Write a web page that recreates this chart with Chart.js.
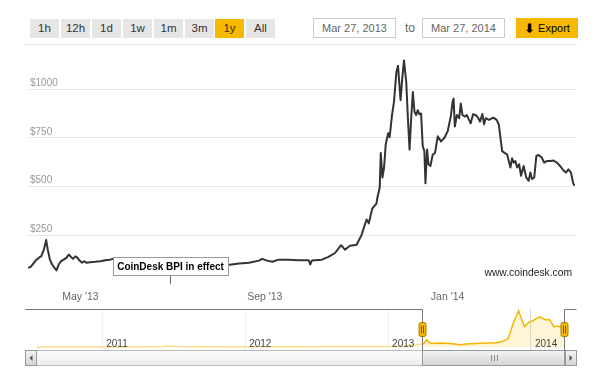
<!DOCTYPE html>
<html>
<head>
<meta charset="utf-8">
<script src="https://cdn.jsdelivr.net/npm/chart.js@4"></script>
<style>
  body { margin: 0; width: 600px; height: 371px; background: #fff; position: relative; overflow: hidden;
         font-family: "Liberation Sans", Arial, sans-serif; }
  .btn { position: absolute; top: 19px; width: 29px; height: 19px; line-height: 19px; background: #e6e6e6;
         color: #333; font-size: 11.5px; text-align: center; }
  .btn.on { background: #f7b900; }
  .date { position: absolute; top: 18px; width: 81px; height: 18px; line-height: 18px; border: 1px solid #ccc;
          color: #666; font-size: 11px; text-align: center; background: #fff; }
  #to { position: absolute; left: 405px; top: 19px; line-height: 19px; color: #666; font-size: 12px; }
  #export { position: absolute; left: 516px; top: 18px; width: 62px; height: 20px; line-height: 20px;
            background: #f7b900; color: #000; font-size: 11px; text-align: center; }
  #export b { font-family: "DejaVu Sans", sans-serif; font-size: 13px; vertical-align: -1px; }
  #sep { position: absolute; left: 25px; top: 44px; width: 552px; height: 1px; background: #e6e6e6; }
  #main { position: absolute; left: 0; top: 48px; }
  #nav { position: absolute; left: 0; top: 306px; }
</style>
</head>
<body>
<span class="btn" style="left:30px">1h</span>
<span class="btn" style="left:61px">12h</span>
<span class="btn" style="left:92px">1d</span>
<span class="btn" style="left:123px">1w</span>
<span class="btn" style="left:154px">1m</span>
<span class="btn" style="left:185px">3m</span>
<span class="btn on" style="left:215px">1y</span>
<span class="btn" style="left:246px">All</span>
<div class="date" style="left:313px">Mar 27, 2013</div>
<span id="to">to</span>
<div class="date" style="left:422px">Mar 27, 2014</div>
<div id="export"><b>&#x2B07;</b> Export</div>
<div id="sep"></div>
<canvas id="main" width="600" height="260"></canvas>
<canvas id="nav" width="600" height="65"></canvas>
<script>
// main chart: days after Mar 27, 2013 and BPI price in USD
const days = [0, 1.8, 5.1, 7.3, 8.8, 10.6, 12.1, 13.2, 14.6, 16.1, 17.7, 19, 20.5, 22.1, 23.8, 25.6, 27.2, 28.7, 30, 31.6,
  33.1, 34.4, 36, 37.6, 38.9, 41.5, 44.8, 48.2, 51.5, 54.8, 58.1, 61.4, 65, 72, 80, 88, 96, 100, 105, 112, 120, 128,
  132, 140.9, 147.5, 154.1, 156.3, 159.6, 163, 167.4, 174, 180.6, 187.3, 188.3, 189.4, 196.1, 200.5, 204.9, 208.9,
  211.5, 214.8, 219.3, 222.6, 225.9, 227.4, 229.7, 232.5, 233.2, 234.7, 235.4, 236.5, 237.6, 238.7, 240.3, 241.3,
  242.9, 244.2, 245.8, 246.9, 248.6, 249.7, 250.9, 252.4, 253.5, 254.6, 255.7, 256.8, 257.9, 259, 260.1, 261.2, 262.3,
  263.4, 264.5, 265.2, 266.3, 267.2, 268.5, 270.1, 271.6, 273.4, 275.6, 277.8, 280, 282.2, 283.3, 284, 284.8, 286.2,
  287.7, 288.8, 289.9, 291.5, 292.8, 294.3, 295.4, 297, 298.7, 300.3, 301.6, 303.2, 304.3, 305.4, 307.6, 310.5, 312.7,
  314.2, 315.3, 316.4, 318, 319.7, 320.8, 321.9, 323, 324.1, 325.2, 326.4, 327.7, 329, 330.7, 332.5, 334.1, 335.2,
  336.3, 337.8, 339.2, 340.7, 342.9, 344.4, 346.2, 348.4, 350.6, 352.9, 355, 357.2, 359, 360.6, 362.3, 363.9, 365];
const prices = [84, 89, 121, 136, 143, 177, 227, 177, 126, 101, 84, 71, 101, 118, 126, 135, 152, 140, 130, 143,
  135, 121, 110, 118, 110, 113, 115, 118, 123, 126, 133, 133, 125, 112, 105, 100, 90, 80, 76, 88, 95, 93,
  97, 106, 110, 121, 130, 121, 115, 126, 126, 123, 123, 101, 121, 126, 140, 160, 200,
  177, 197, 202, 253, 332, 312, 387, 413, 446, 496, 673, 547, 598, 716, 774, 753,
  867, 934, 1086, 1120, 943, 1052, 1147, 1035, 851, 690, 851, 985, 884, 867, 892, 871, 875,
  707, 682, 517, 690, 615, 606, 665, 673, 758, 732, 749, 783, 863, 934, 951, 808, 867,
  851, 926, 867, 859, 867, 842, 825, 871, 867, 854, 833, 872, 820, 851, 842, 854, 842,
  817, 749, 682, 673, 665, 631, 598, 645, 623, 631, 598, 615, 556, 606, 547, 530, 572,
  539, 547, 657, 662, 648, 623, 631, 631, 634, 623, 606, 584, 572, 589, 572, 514, 505];

const xTickDays = [35, 158, 280];
const xTickLabels = ["May '13", "Sep '13", "Jan '14"];
const yTicks = [250, 500, 750, 1000];

const flagDay = 95;
const flagText = 'CoinDesk BPI in effect';
const creditText = 'www.coindesk.com';

// navigator: decimal year and price
const navYears = [2010.54, 2010.75, 2010.9, 2011.1, 2011.3, 2011.42, 2011.45, 2011.55, 2011.7, 2011.9, 2012.1, 2012.4,
  2012.6, 2012.8, 2013.0, 2013.1, 2013.2, 2013.25, 2013.27, 2013.3, 2013.38, 2013.45, 2013.5, 2013.55, 2013.65,
  2013.75, 2013.8, 2013.84, 2013.88, 2013.913, 2013.935, 2013.955, 2013.98, 2014.02, 2014.06, 2014.1, 2014.13,
  2014.16, 2014.19, 2014.21, 2014.238];
const navPrices = [0.1, 0.1, 0.3, 0.5, 1.5, 18, 29, 15, 9, 3, 6, 5,
  11, 11, 13, 28, 70, 110, 225, 110, 125, 100, 70, 95, 120,
  130, 170, 260, 800, 1147, 870, 640, 760, 850, 950, 860, 870,
  640, 660, 620, 505];
const navYearTicks = [2011, 2012, 2013, 2014];
const selStart = 2013.236;
const selEnd = 2014.236;

const FONT = '"Liberation Sans", Arial, sans-serif';

const flagPlugin = {
  id: 'flag',
  afterDatasetsDraw(chart) {
    const ctx = chart.ctx;
    const xs = chart.scales.x, ys = chart.scales.y;
    const px = Math.round(xs.getPixelForValue(flagDay)) + 0.5;
    const base = ys.getPixelForValue(0);
    ctx.save();
    ctx.font = 'bold 10px ' + FONT;
    const w = Math.round(ctx.measureText(flagText).width + 8);
    const h = 18;
    const top = Math.round(base - 27) + 0.5;
    const left = Math.round(px - w / 2) + 0.5;
    ctx.strokeStyle = '#666';
    ctx.lineWidth = 1;
    ctx.beginPath();
    ctx.moveTo(px, top + h);
    ctx.lineTo(px, base);
    ctx.stroke();
    ctx.fillStyle = '#fff';
    ctx.fillRect(left, top, w, h);
    ctx.strokeStyle = '#999';
    ctx.strokeRect(left, top, w, h);
    ctx.fillStyle = '#000';
    ctx.textAlign = 'center';
    ctx.textBaseline = 'middle';
    ctx.fillText(flagText, px, top + h / 2 + 1);
    // credit
    ctx.font = '10.3px ' + FONT;
    ctx.fillStyle = '#222';
    ctx.textAlign = 'right';
    ctx.fillText(creditText, chart.chartArea.right - 3, chart.chartArea.bottom - 16);
    ctx.restore();
  }
};

new Chart(document.getElementById('main'), {
  type: 'line',
  data: {
    datasets: [{
      data: days.map((d, i) => ({ x: d, y: prices[i] })),
      borderColor: '#333',
      borderWidth: 2,
      pointRadius: 0,
      tension: 0,
      borderJoinStyle: 'round'
    }]
  },
  options: {
    responsive: false,
    animation: false,
    layout: { padding: { top: 7, left: 24, right: 25, bottom: 4 } },
    plugins: { legend: { display: false }, tooltip: { enabled: false } },
    scales: {
      x: {
        type: 'linear', min: 0, max: 365,
        afterBuildTicks: (s) => { s.ticks = xTickDays.map(v => ({ value: v })); },
        grid: { display: false, drawTicks: false },
        border: { display: false },
        ticks: {
          autoSkip: false, maxRotation: 0, padding: 1, color: '#666',
          font: { family: FONT, size: 10.5 },
          callback: (v) => xTickLabels[xTickDays.indexOf(v)]
        }
      },
      y: {
        min: -26.5, max: 1169.5,
        afterBuildTicks: (s) => { s.ticks = yTicks.map(v => ({ value: v })); },
        grid: { color: '#e6e6e6', drawTicks: false },
        border: { display: false },
        ticks: {
          mirror: true, padding: 2, labelOffset: -6, color: '#999',
          font: { family: FONT, size: 10 },
          callback: (v) => '$' + v
        }
      }
    }
  },
  plugins: [flagPlugin]
});

const navPlugin = {
  id: 'navdeco',
  afterDatasetsDraw(chart) {
    const ctx = chart.ctx, ca = chart.chartArea, xs = chart.scales.x;
    const a = Math.round(xs.getPixelForValue(selStart)) + 0.5;
    const b = Math.round(xs.getPixelForValue(selEnd)) - 0.5;
    const L = Math.round(ca.left - 11.5) + 0.5, R = Math.round(ca.right + 12) - 0.5;
    const top = Math.round(ca.top) + 0.5, bot = Math.round(ca.bottom) + 0.5;
    ctx.save();
    // mask outside selection
    ctx.fillStyle = 'rgba(255,255,255,0.55)';
    ctx.fillRect(ca.left, ca.top, a - ca.left, ca.bottom - ca.top);
    ctx.fillRect(b, ca.top, ca.right - b, ca.bottom - ca.top);
    // year labels
    ctx.font = '10px ' + FONT;
    ctx.fillStyle = '#444';
    ctx.textAlign = 'left';
    ctx.textBaseline = 'alphabetic';
    navYearTicks.forEach(yr => ctx.fillText(String(yr), xs.getPixelForValue(yr) + 4, bot - 4));
    // outline
    ctx.strokeStyle = '#777';
    ctx.lineWidth = 1;
    ctx.beginPath();
    ctx.moveTo(L, top); ctx.lineTo(a, top); ctx.lineTo(a, bot);
    ctx.moveTo(b, bot); ctx.lineTo(b, top); ctx.lineTo(R, top);
    ctx.stroke();
    // scrollbar
    const sTop = bot, sh = 15;
    let g = ctx.createLinearGradient(0, sTop, 0, sTop + sh);
    g.addColorStop(0, '#fdfdfd'); g.addColorStop(1, '#ececec');
    ctx.fillStyle = g;
    ctx.fillRect(L, sTop, R - L, sh);
    ctx.strokeStyle = '#bbb';
    ctx.strokeRect(L, sTop, R - L, sh);
    g = ctx.createLinearGradient(0, sTop, 0, sTop + sh);
    g.addColorStop(0, '#f4f4f4'); g.addColorStop(1, '#d4d4d4');
    ctx.fillStyle = g;
    ctx.strokeStyle = '#999';
    [[L, 11], [R - 11, 11], [a, b - a]].forEach(([bx, bw]) => {
      ctx.fillRect(bx, sTop, bw, sh);
      ctx.strokeRect(bx, sTop, bw, sh);
    });
    ctx.fillStyle = '#555';
    const my = sTop + sh / 2;
    ctx.beginPath();
    ctx.moveTo(L + 4, my); ctx.lineTo(L + 7, my - 3); ctx.lineTo(L + 7, my + 3); ctx.closePath();
    ctx.moveTo(R - 4, my); ctx.lineTo(R - 7, my - 3); ctx.lineTo(R - 7, my + 3); ctx.closePath();
    ctx.fill();
    const mid = Math.round((a + b) / 2) + 0.5;
    ctx.strokeStyle = '#888';
    ctx.beginPath();
    [-3, 0, 3].forEach(o => { ctx.moveTo(mid + o, my - 3); ctx.lineTo(mid + o, my + 3); });
    ctx.stroke();
    // handles
    const hy = Math.round((ca.top + ca.bottom) / 2 - 7) + 0.5;
    [a, b].forEach(hx => {
      const x0 = Math.round(hx - 3.5) + 0.5;
      ctx.fillStyle = '#f7b900';
      ctx.strokeStyle = '#a67c00';
      ctx.beginPath();
      ctx.roundRect(x0 - 0.5, hy, 7, 14, 2);
      ctx.fill();
      ctx.stroke();
      ctx.strokeStyle = '#7a5b00';
      ctx.beginPath();
      ctx.moveTo(x0 + 2, hy + 3); ctx.lineTo(x0 + 2, hy + 11);
      ctx.moveTo(x0 + 4, hy + 3); ctx.lineTo(x0 + 4, hy + 11);
      ctx.stroke();
    });
    ctx.restore();
  }
};

new Chart(document.getElementById('nav'), {
  type: 'line',
  data: {
    datasets: [{
      data: navYears.map((yr, i) => ({ x: yr, y: navPrices[i] })),
      borderColor: '#f5b400',
      borderWidth: 1.5,
      backgroundColor: 'rgba(247,185,0,0.15)',
      fill: 'origin',
      pointRadius: 0,
      tension: 0
    }]
  },
  options: {
    responsive: false,
    animation: false,
    layout: { padding: { top: 2.5, left: 36.5, right: 35, bottom: 21.5 } },
    plugins: { legend: { display: false }, tooltip: { enabled: false } },
    scales: {
      x: {
        type: 'linear', min: 2010.54, max: 2014.238,
        afterBuildTicks: (s) => { s.ticks = navYearTicks.map(v => ({ value: v })); },
        grid: { color: '#dcdcdc', drawTicks: false },
        border: { display: false },
        ticks: { display: false }
      },
      y: { display: false, min: -80, max: 1217 }
    }
  },
  plugins: [navPlugin]
});
</script>
</body>
</html>
